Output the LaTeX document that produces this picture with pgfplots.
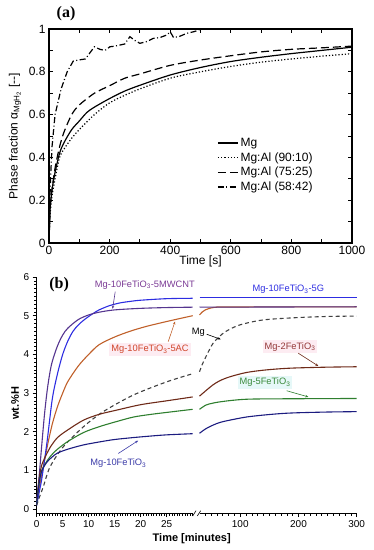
\documentclass[border=0pt]{standalone}
\usepackage{fontspec}
\setmainfont{Liberation Sans}
\newfontfamily\serifbf{Liberation Serif}
\usepackage{pgfplots}
\pgfplotsset{compat=1.18}
\usetikzlibrary{arrows.meta}
\definecolor{cG}{RGB}{45,45,225}
\definecolor{cMW}{RGB}{85,53,143}
\definecolor{cMWt}{RGB}{123,59,149}
\definecolor{cAC}{RGB}{192,96,42}
\definecolor{cACt}{RGB}{208,69,42}
\definecolor{cTwo}{RGB}{110,42,24}
\definecolor{cTwot}{RGB}{148,56,56}
\definecolor{cFive}{RGB}{47,127,47}
\definecolor{cFivet}{RGB}{58,138,58}
\definecolor{cTen}{RGB}{28,28,128}
\definecolor{cTent}{RGB}{60,60,168}
\definecolor{cMg}{RGB}{64,64,64}
\definecolor{pinkbg}{RGB}{253,236,242}
\definecolor{cyanbg}{RGB}{230,248,248}
\begin{document}
\begin{tikzpicture}
\useasboundingbox (0,0) rectangle (374pt,550pt);
% ---------------- panel (a)
\begin{axis}[
 at={(49pt,307pt)}, anchor=south west, scale only axis, width=303pt, height=214pt,
 xmin=0, xmax=1000, ymin=0, ymax=1,
 xtick={0,200,400,600,800,1000}, xticklabels={0,200,400,600,800,1000},
 minor xtick={100,300,500,700,900},
 ytick={0,0.2,0.4,0.6,0.8,1}, yticklabels={0,0.2,0.4,0.6,0.8,1},
 minor ytick={0.1,0.3,0.5,0.7,0.9},
 tick align=inside, major tick length=4pt, minor tick length=4pt,
 every tick/.style={black, line width=0.8pt},
 axis line style={line width=1.1pt},
 tick label style={font=\fontsize{12}{14}\selectfont},
 xlabel={Time [s]},
 ylabel={Phase fraction α\textsubscript{MgH\textsubscript{2}} [-{}-]},
 label style={font=\fontsize{12}{14}\selectfont},
 xlabel style={at={(axis description cs:0.5,-0.084)}, anchor=center},
 ylabel style={at={(axis description cs:-0.112,0.5)}, anchor=center},
 legend style={at={(axis cs:555,0.5)}, anchor=north west, draw=none, fill=none,
   font=\fontsize{12}{14}\selectfont, row sep=0.5pt, inner sep=0pt},
 legend cell align=left,
 legend image code/.code={\draw[#1] (0pt,0pt) -- (20pt,0pt);},
]
\addplot[black, line width=1.2pt, smooth] coordinates {
(0,0) (3,0.14) (6,0.2) (10,0.25) (20,0.33) (35,0.42) (50,0.47) (75,0.53) (100,0.57)
(125,0.61) (150,0.635) (200,0.675) (250,0.71) (300,0.737) (400,0.785) (500,0.82)
(600,0.848) (700,0.868) (800,0.885) (900,0.9) (1000,0.915)};
\addlegendentry{Mg}
\addplot[black, line width=1.2pt, dotted, smooth] coordinates {
(0,0) (3,0.12) (6,0.17) (10,0.22) (20,0.3) (35,0.4) (50,0.44) (75,0.49) (100,0.53)
(150,0.6) (200,0.655) (250,0.69) (300,0.72) (400,0.77) (500,0.8) (600,0.825)
(700,0.845) (800,0.86) (900,0.873) (1000,0.885)};
\addlegendentry{Mg:Al (90:10)}
\addplot[black, line width=1.2pt, dash pattern=on 8pt off 4pt, smooth] coordinates {
(0,0) (3,0.15) (6,0.2) (10,0.25) (20,0.35) (35,0.45) (50,0.52) (75,0.6) (100,0.645)
(150,0.7) (200,0.735) (250,0.77) (300,0.79) (400,0.83) (500,0.855) (600,0.875)
(700,0.893) (800,0.905) (900,0.912) (1000,0.92)};
\addlegendentry{Mg:Al (75:25)}
\addplot[black, line width=1.2pt, dash pattern=on 6pt off 2.5pt on 1pt off 2.5pt] coordinates {
(0,0) (3,0.2) (5,0.3) (10,0.45) (20,0.6) (30,0.66) (40,0.72) (60,0.8) (80,0.85) (97,0.855)
(120,0.86) (150,0.917) (168,0.905) (185,0.9) (201,0.917) (218,0.92) (234,0.925)
(250,0.93) (267,0.964) (285,0.945) (300,0.933) (322,0.941) (344,0.956) (366,0.96)
(389,0.972) (400,0.987) (411,0.96) (430,0.965) (455,0.98) (480,0.988) (498,0.998)};
\addlegendentry{Mg:Al (58:42)}
\end{axis}
\node[font=\serifbf\bfseries\fontsize{16}{18}\selectfont] at (66pt,536pt) {(a)};
% ---------------- panel (b) left part
\begin{axis}[
 at={(36.7pt,37pt)}, anchor=south west, scale only axis, width=156pt, height=236pt,
 xmin=0, xmax=30, ymin=-0.1, ymax=6,
 axis x line*=bottom, axis y line*=left,
 xtick={0,5,10,15,20,25}, minor xtick={0.5,1,...,30},
 ytick={0,1,2,3,4,5,6}, minor ytick={0.1,0.2,...,5.95},
 tick align=outside, major tick length=4pt, minor tick length=2.5pt,
 every tick/.style={black, line width=0.6pt},
 axis line style={line width=0.8pt},
 tick label style={font=\fontsize{10}{12}\selectfont},
 /pgf/number format/assume math mode=true,
 clip=false,
]
\addplot[cAC, line width=1.1pt, smooth] coordinates {
(0,0.15) (0.5,0.55) (1,0.9) (2,1.6) (3,2.2) (4,2.65) (5,3.0) (6,3.3) (8,3.7) (10,4.0)
(12,4.25) (15,4.45) (18,4.6) (21,4.72) (25,4.85) (30,5.0)};
\addplot[cG, line width=1.1pt, smooth] coordinates {
(0,0.1) (0.5,0.45) (1,0.8) (2,1.75) (3,2.85) (4,3.5) (5,4.0) (6,4.35) (7,4.6) (8,4.76)
(9,4.88) (10,4.98) (11,5.07) (12,5.15) (14,5.26) (16,5.33) (18,5.37) (20,5.4) (25,5.44) (30,5.45)};
\addplot[cMW, line width=1.1pt, smooth] coordinates {
(0,0.2) (0.5,0.9) (1,1.7) (1.5,2.45) (2,3.05) (2.5,3.5) (3,3.82) (4,4.22) (5,4.5) (6,4.68)
(8,4.9) (10,5.02) (12,5.09) (15,5.15) (20,5.19) (25,5.21) (30,5.22)};
\addplot[cMg, line width=1.1pt, dash pattern=on 4pt off 3pt, smooth] coordinates {
(0,0.1) (0.5,0.3) (1.27,0.58) (2.56,1.09) (5.1,1.61) (9,2.13) (12.8,2.52) (18.6,2.95)
(25,3.29) (30,3.5)};
\addplot[cTwo, line width=1.1pt, smooth] coordinates {
(0,0.2) (0.5,0.8) (1,1.15) (2,1.45) (2.6,1.6) (4,1.85) (6,2.05) (9,2.3) (12,2.45)
(15.4,2.56) (20,2.7) (25,2.8) (30,2.9)};
\addplot[cFive, line width=1.1pt, smooth] coordinates {
(0,0.15) (0.5,0.7) (1,1.0) (2,1.25) (3,1.42) (4,1.55) (6,1.75) (9,1.98) (12,2.13)
(15,2.25) (18.6,2.38) (22,2.45) (25,2.5) (30,2.58)};
\addplot[cTen, line width=1.1pt, smooth] coordinates {
(0,0.15) (0.5,0.7) (1,1.0) (2,1.22) (3,1.35) (4,1.45) (6,1.55) (9,1.66) (12.2,1.74)
(15,1.8) (18.6,1.85) (22,1.89) (25,1.92) (30,1.95)};
\node[font=\serifbf\bfseries\fontsize{16}{18}\selectfont] at (axis cs:4.3,5.79) {(b)};
\node[font=\fontsize{9.3}{11}\selectfont, text=cMWt] at (axis cs:20.8,5.79) {Mg-10FeTiO\textsubscript{3}-5MWCNT};
\draw[cMW, line width=0.6pt, -{Stealth[length=3pt,width=2.5pt]}] (axis cs:15.1,5.62) -- (axis cs:14.6,5.18);
\node[font=\fontsize{9.3}{11}\selectfont, text=cACt, fill=pinkbg, inner sep=2pt] at (axis cs:21.8,4.13) {Mg-10FeTiO\textsubscript{3}-5AC};
\draw[cAC, line width=0.6pt, -{Stealth[length=3pt,width=2.5pt]}] (axis cs:25.3,4.33) -- (axis cs:26.6,4.85);
\node[font=\fontsize{9.3}{11}\selectfont, text=cTent] at (axis cs:15.7,1.18) {Mg-10FeTiO\textsubscript{3}};
\draw[cTent, line width=0.6pt, -{Stealth[length=3pt,width=2.5pt]}] (axis cs:15.7,1.44) -- (axis cs:19.5,1.77);
\end{axis}
% ---------------- panel (b) right part
\begin{axis}[
 at={(199.5pt,37pt)}, anchor=south west, scale only axis, width=157.2pt, height=236pt,
 xmin=30, xmax=300, ymin=-0.1, ymax=6,
 axis x line*=bottom, axis y line=none,
 xtick={100,200,300}, minor xtick={40,50,...,290},
 ytick=\empty,
 tick align=outside, major tick length=4pt, minor tick length=2.5pt,
 every tick/.style={black, line width=0.6pt},
 axis line style={line width=0.8pt},
 tick label style={font=\fontsize{10}{12}\selectfont},
 /pgf/number format/assume math mode=true,
 clip=false,
]
\addplot[cG, line width=1.1pt] coordinates {(30,5.46) (300,5.46)};
\addplot[cAC, line width=1.1pt, smooth] coordinates {
(30,5.02) (35,5.1) (40,5.15) (50,5.2) (60,5.22) (80,5.225) (300,5.23)};
\addplot[cMW, line width=1.1pt] coordinates {(30,5.22) (300,5.23)};
\addplot[cMg, line width=1.1pt, dash pattern=on 4pt off 3pt, smooth] coordinates {
(30,3.55) (35,3.75) (41,3.94) (47,4.12) (53,4.28) (64,4.46) (76,4.6) (99,4.76)
(139,4.89) (197,4.95) (250,4.98) (300,4.99)};
\addplot[cTwo, line width=1.1pt, smooth] coordinates {
(30,2.92) (40,3.05) (53,3.21) (65,3.32) (82,3.42) (110,3.53) (139,3.59) (170,3.63)
(197,3.65) (250,3.67) (300,3.68)};
\addplot[cFive, line width=1.1pt, smooth] coordinates {
(30,2.58) (41,2.69) (53,2.74) (64,2.77) (85,2.81) (110,2.84) (150,2.85) (300,2.86)};
\addplot[cTen, line width=1.1pt, smooth] coordinates {
(30,1.96) (40,2.07) (53,2.17) (65,2.24) (82,2.3) (110,2.38) (139,2.43) (170,2.47)
(197,2.49) (250,2.51) (300,2.52)};
\node[font=\fontsize{9.3}{11}\selectfont, text=cG] at (axis cs:182.5,5.68) {Mg-10FeTiO\textsubscript{3}-5G};
\node[font=\fontsize{9.3}{11}\selectfont, text=black] at (axis cs:28,4.57) {Mg};
\draw[black, line width=0.6pt, -{Stealth[length=3pt,width=2.5pt]}] (axis cs:42.4,4.52) -- (axis cs:66.4,4.39);
\node[font=\fontsize{9.3}{11}\selectfont, text=cTwot, fill=pinkbg, inner sep=2pt] at (axis cs:185.4,4.2) {Mg-2FeTiO\textsubscript{3}};
\draw[cTwo, line width=0.6pt, -{Stealth[length=3pt,width=2.5pt]}] (axis cs:199.7,4.03) -- (axis cs:234,3.70);
\node[font=\fontsize{9.3}{11}\selectfont, text=cFivet, fill=cyanbg, inner sep=2pt] at (axis cs:142.5,3.28) {Mg-5FeTiO\textsubscript{3}};
\draw[cFive, line width=0.6pt, -{Stealth[length=3pt,width=2.5pt]}] (axis cs:179.8,3.06) -- (axis cs:216.9,2.9);
\end{axis}
% break marks and shared labels
\draw[line width=0.6pt] (192.7pt,34pt) -- (196pt,39.3pt);
\draw[line width=0.6pt] (197.3pt,34pt) -- (200.7pt,39.3pt);
\node[font=\bfseries\fontsize{11}{13}\selectfont, rotate=90] at (15pt,146.7pt) {wt.\%H};
\node[font=\bfseries\fontsize{11}{13}\selectfont] at (191.7pt,11.7pt) {Time [minutes]};
\end{tikzpicture}
\end{document}
